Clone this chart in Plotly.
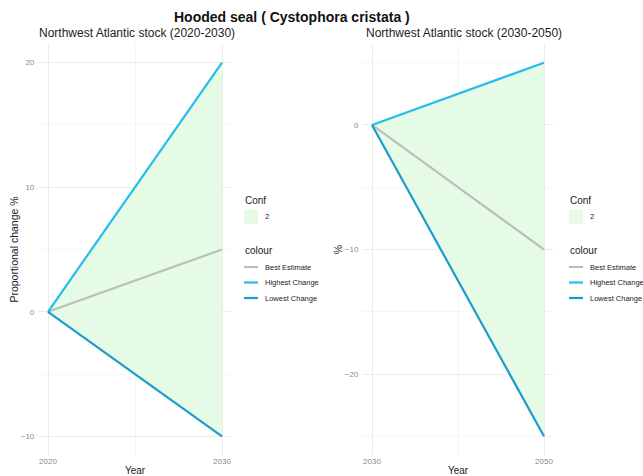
import plotly.graph_objects as go

W, H = 643, 476

# Projected proportional change (%) for the two periods
years_a = [2020, 2030]
best_a = [0, 5]
high_a = [0, 20]
low_a = [0, -10]

years_b = [2030, 2050]
best_b = [0, -10]
high_b = [0, 5]
low_b = [0, -25]

series_names = ["Best Estimate", "Highest Change", "Lowest Change"]
series_colors = ["#b9bfb9", "#25bdee", "#1b9ccc"]
fill_color = "#e6fbe6"
conf_label = "2"

fig = go.Figure()

def add_panel(xs, best, high, low, xa, ya):
    # ribbon between lowest and highest change
    fig.add_trace(go.Scatter(x=xs, y=low, mode="lines", line=dict(width=0),
                             xaxis=xa, yaxis=ya, showlegend=False, hoverinfo="skip"))
    fig.add_trace(go.Scatter(x=xs, y=high, mode="lines", line=dict(width=0),
                             fill="tonexty", fillcolor=fill_color,
                             xaxis=xa, yaxis=ya, showlegend=False, hoverinfo="skip"))
    for name, vals, col in zip(series_names, [best, high, low], series_colors):
        fig.add_trace(go.Scatter(x=xs, y=vals, mode="lines", name=name,
                                 line=dict(color=col, width=2.2),
                                 xaxis=xa, yaxis=ya, showlegend=False))

add_panel(years_a, best_a, high_a, low_a, "x", "y")
add_panel(years_b, best_b, high_b, low_b, "x2", "y2")

ydom = [1 - 455 / H, 1 - 44 / H]
grid = "#ebebeb"
minor_grid = "#f5f5f5"
font = "Liberation Sans, Arial"
tickfont = dict(family=font, size=8, color="#8a8a8a")

def xaxis(dom, rng, ticks, anchor):
    return dict(domain=dom, range=rng, tickvals=ticks, showgrid=True, gridcolor=grid,
                gridwidth=1, zeroline=False, showline=False, ticks="", tickfont=tickfont,
                anchor=anchor, fixedrange=True, automargin=False,
                minor=dict(tickvals=[(ticks[0] + ticks[1]) / 2], showgrid=True,
                           gridcolor=minor_grid, gridwidth=1),
                title=dict(text="Year", standoff=6,
                           font=dict(family=font, size=10, color="#222")))

def yaxis(rng, ticks, minor_ticks, anchor, title):
    return dict(domain=ydom, range=rng, tickvals=ticks, showgrid=True, gridcolor=grid,
                gridwidth=1, zeroline=False, showline=False, ticks="", tickfont=tickfont,
                anchor=anchor, fixedrange=True, ticklabelstandoff=4, automargin=False,
                minor=dict(tickvals=minor_ticks, showgrid=True, gridcolor=minor_grid, gridwidth=1),
                title=dict(text=title, standoff=0,
                           font=dict(family=font, size=10.5, color="#222")))

fig.update_layout(
    width=W, height=H,
    margin=dict(l=0, r=0, t=0, b=0, autoexpand=False),
    paper_bgcolor="white", plot_bgcolor="white",
    xaxis=xaxis([39.3 / W, 230.7 / W], [2019.5, 2030.5], [2020, 2030], "y"),
    yaxis=yaxis([-11.5, 21.5], [-10, 0, 10, 20], [-5, 5, 15], "x", "Proportional change %"),
    xaxis2=xaxis([363.4 / W, 552.6 / W], [2029, 2051], [2030, 2050], "y2"),
    yaxis2=yaxis([-26.5, 6.5], [-20, -10, 0], [-25, -15, -5, 5], "x2", "%"),
    showlegend=False,
)

ann = []
shapes = []

def px(x):
    return x / W

def py(y):
    return 1 - y / H

def text(t, x, y, size, color="#222", anchor="left"):
    ann.append(dict(text=t, x=px(x), y=py(y), xref="paper", yref="paper",
                    showarrow=False, xanchor=anchor, yanchor="middle",
                    font=dict(family=font, size=size, color=color)))

text("<b>Hooded seal ( Cystophora cristata )</b>", 292, 17, 14, "#111", "center")
text("Northwest Atlantic stock (2020-2030)", 37, 33, 12)
text("Northwest Atlantic stock (2030-2050)", 364, 33, 12)

def add_legend(x0):
    text("Conf", x0, 200, 10)
    shapes.append(dict(type="rect", xref="paper", yref="paper",
                       x0=px(x0 + 1), x1=px(x0 + 15), y0=py(210), y1=py(224),
                       fillcolor=fill_color, line=dict(width=0)))
    text(conf_label, x0 + 20, 217, 7.5)
    text("colour", x0, 250, 10)
    for i, (name, col) in enumerate(zip(series_names, series_colors)):
        yy = 267 + i * 15.5
        shapes.append(dict(type="line", xref="paper", yref="paper",
                           x0=px(x0 + 1), x1=px(x0 + 15), y0=py(yy), y1=py(yy),
                           line=dict(color=col, width=2.2)))
        text(name, x0 + 20, yy, 7.5)

add_legend(243)
add_legend(568)

fig.update_layout(annotations=ann, shapes=shapes)
fig.write_html("out.html")
